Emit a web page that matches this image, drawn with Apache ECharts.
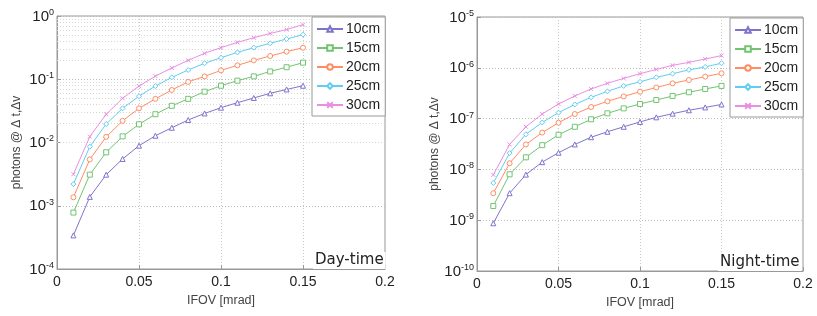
<!DOCTYPE html>
<html><head><meta charset="utf-8">
<script src="https://cdn.jsdelivr.net/npm/echarts@6/dist/echarts.min.js"></script>
<style>html,body{margin:0;padding:0;background:#fff}#c{width:817px;height:316px}</style>
</head><body><div id="c"></div>
<script>
var xs = [0.01,0.02,0.03,0.04,0.05,0.06,0.07,0.08,0.09,0.10,0.11,0.12,0.13,0.14,0.15];
var seriesNames = ['10cm','15cm','20cm','25cm','30cm'];
var xTicks = [0,0.05,0.1,0.15,0.2];
var dayYTicks = [1e-4,1e-3,1e-2,1e-1,1];
var nightYTicks = [1e-10,1e-9,1e-8,1e-7,1e-6,1e-5];

var day10 = [3.4e-4,1.38e-3,3.1e-3,5.5e-3,8.9e-3,0.0128,0.0171,0.0227,0.0288,0.0355,0.0426,0.0506,0.060,0.069,0.079];
var day15 = [7.8e-4,3.1e-3,7.0e-3,0.0125,0.0194,0.028,0.038,0.049,0.0636,0.079,0.095,0.111,0.133,0.155,0.183];
var day20 = [1.36e-3,5.4e-3,0.0123,0.022,0.0347,0.049,0.0676,0.091,0.111,0.138,0.166,0.199,0.233,0.273,0.315];
var day25 = [2.2e-3,8.6e-3,0.0196,0.0347,0.054,0.078,0.107,0.14,0.179,0.219,0.266,0.316,0.37,0.433,0.507];
var day30 = [3.15e-3,0.0124,0.0279,0.050,0.078,0.112,0.151,0.199,0.257,0.316,0.383,0.454,0.53,0.61,0.73];

var night10 = [8.7e-10,3.4e-9,7.9e-9,1.39e-8,2.13e-8,3.1e-8,4.3e-8,5.5e-8,6.9e-8,8.6e-8,1.06e-7,1.25e-7,1.46e-7,1.66e-7,1.9e-7];
var night15 = [1.9e-9,8.0e-9,1.73e-8,3.0e-8,4.8e-8,6.9e-8,9.7e-8,1.27e-7,1.59e-7,1.94e-7,2.32e-7,2.79e-7,3.3e-7,3.83e-7,4.4e-7];
var night20 = [3.4e-9,1.32e-8,3.1e-8,5.3e-8,8.3e-8,1.23e-7,1.69e-7,2.19e-7,2.74e-7,3.38e-7,4.1e-7,4.95e-7,5.75e-7,6.7e-7,7.8e-7];
var night25 = [5.4e-9,2.09e-8,4.9e-8,8.4e-8,1.31e-7,1.9e-7,2.62e-7,3.44e-7,4.4e-7,5.3e-7,6.5e-7,7.65e-7,9.1e-7,1.04e-6,1.23e-6];
var night30 = [7.8e-9,3.1e-8,6.9e-8,1.23e-7,1.94e-7,2.79e-7,3.83e-7,4.95e-7,6.2e-7,7.65e-7,9.3e-7,1.12e-6,1.28e-6,1.49e-6,1.74e-6];

var colors = ['#7f74cc','#72c472','#ff8d62','#62cdef','#e98fe2'];
var symbols = ['triangle','rect','circle','diamond','path://M0,0L1,1M1,0L0,1'];
var FONT = 'Liberation Sans, Arial, sans-serif';

function minorLines(lo, hi){
  var out = [];
  for (var e = lo; e < hi; e++) {
    for (var m = 2; m <= 9; m++) out.push({yAxis: m * Math.pow(10, e)});
  }
  return out;
}

function makeSeries(arrs, gi, lo, hi){
  return arrs.map(function(arr, i){
    var s = {
      name: seriesNames[i], type: 'line', xAxisIndex: gi, yAxisIndex: gi,
      data: arr.map(function(v, k){ return [xs[k], v]; }),
      symbol: symbols[i], symbolSize: i === 4 ? 4 : 5,
      showAllSymbol: true,
      lineStyle: {color: colors[i], width: 1},
      itemStyle: {color: i === 4 ? colors[i] : '#fff', borderColor: colors[i], borderWidth: 1},
      emphasis: {disabled: true},
      animation: false, z: 3
    };
    if (i === 0) {
      s.markLine = {
        silent: true, symbol: 'none', animation: false, label: {show: false},
        lineStyle: {color: '#d6d6d6', type: [1,2], width: 1},
        data: minorLines(lo, hi), z: 1
      };
    }
    return s;
  });
}

function yLabelFmt(v){
  var e = Math.round(Math.log10(v));
  return '{b|10}{s|' + e + '}';
}

function xAxis(gi){
  return {
    gridIndex: gi, type: 'value', min: 0, max: 0.2, interval: 0.05,
    name: 'IFOV [mrad]', nameLocation: 'middle', nameGap: 23,
    nameTextStyle: {fontFamily: FONT, fontSize: 12.5, color: '#444'},
    axisLine: {show: true, lineStyle: {color: '#999'}},
    axisTick: {show: true, inside: true, length: 4, lineStyle: {color: '#999'}},
    axisLabel: {fontFamily: FONT, fontSize: 14, color: '#222', margin: 6,
      formatter: function(v){ return String(+v.toFixed(2)); }},
    splitLine: {show: true, lineStyle: {color: '#c8c8c8', type: [1,2]}}
  };
}
function yAxis(gi, min, max){
  return {
    gridIndex: gi, type: 'log', logBase: 10, min: min, max: max,
    name: 'photons @ \u0394 t,\u0394v', nameLocation: 'middle', nameGap: 34,
    nameTextStyle: {fontFamily: FONT, fontSize: 12, color: '#444'},
    axisLine: {show: true, lineStyle: {color: '#999'}},
    axisTick: {show: true, inside: true, length: 4, lineStyle: {color: '#999'}},
    axisLabel: {fontFamily: FONT, color: '#222', margin: 3, formatter: yLabelFmt,
      rich: {
        b: {fontFamily: FONT, fontSize: 15, color: '#222', verticalAlign: 'bottom', lineHeight: 16},
        s: {fontFamily: FONT, fontSize: 9, color: '#222', verticalAlign: 'top', padding: [0,0,10,0], lineHeight: 10}
      }},
    splitLine: {show: true, lineStyle: {color: '#bdbdbd', type: [1,2]}}
  };
}

var chart = echarts.init(document.getElementById('c'), null, {renderer: 'canvas'});
var legendBase = {
  orient: 'vertical', itemWidth: 26, itemHeight: 7, itemGap: 3,
  backgroundColor: '#fff', borderColor: '#999', borderWidth: 1, padding: [4,5,3,4],
  textStyle: {fontFamily: FONT, fontSize: 14, color: '#222', lineHeight: 16, padding: [0,0,0,-2]},
  selectedMode: false, data: seriesNames.slice()
};
var leg1 = Object.assign({}, legendBase, {left: 312, top: 17});
var leg2 = Object.assign({}, legendBase, {left: 730, top: 18});

var dayS = makeSeries([day10,day15,day20,day25,day30], 0, -4, 0);
var nightS = makeSeries([night10,night15,night20,night25,night30], 1, -10, -5);

chart.setOption({
  animation: false,
  backgroundColor: '#fff',
  grid: [
    {left: 57, right: 432, top: 16, bottom: 47, show: true, borderColor: '#999', borderWidth: 1, backgroundColor: 'transparent'},
    {left: 477, right: 14, top: 17, bottom: 45, show: true, borderColor: '#999', borderWidth: 1, backgroundColor: 'transparent'}
  ],
  xAxis: [xAxis(0), xAxis(1)],
  yAxis: [yAxis(0, 1e-4, 1), yAxis(1, 1e-10, 1e-5)],
  legend: [leg1, leg2],
  series: dayS.concat(nightS),
  graphic: [
    {type: 'text', left: 313, top: 252, z: 10, style: {text: 'Day-time', fontFamily: 'DejaVu Sans, sans-serif', fontSize: 15, fill: '#222', backgroundColor: '#fff', padding: [1,2]}},
    {type: 'text', left: 718, top: 254, z: 10, style: {text: 'Night-time', fontFamily: 'DejaVu Sans, sans-serif', fontSize: 15, fill: '#222', backgroundColor: '#fff', padding: [1,2]}}
  ]
});
</script></body></html>
